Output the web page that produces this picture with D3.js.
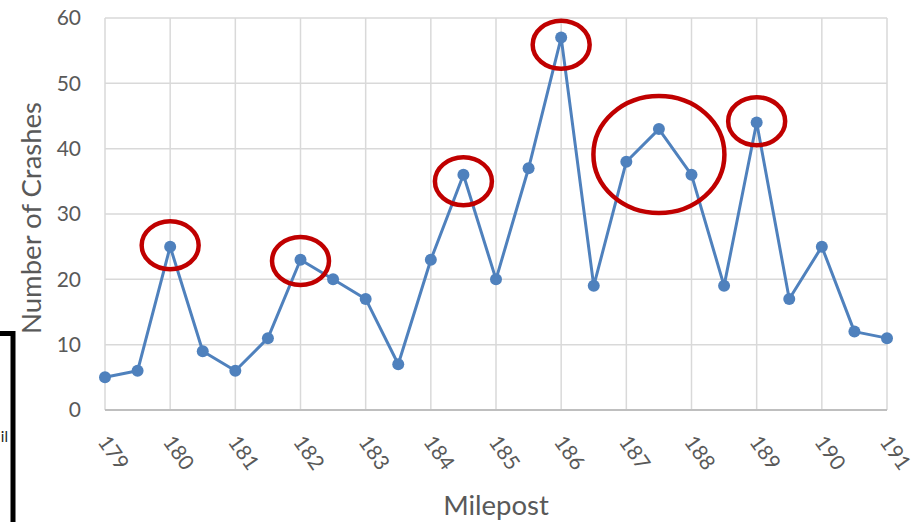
<!DOCTYPE html>
<html>
<head>
<meta charset="utf-8">
<script src="https://cdn.jsdelivr.net/npm/d3@7"></script>
<style>
html,body{margin:0;padding:0;background:#fff;}
svg{display:block;font-family:Lato,"Open Sans",sans-serif;}
</style>
</head>
<body>
<svg id="chart" width="911" height="522"></svg>
<script>
// ---- data ----
const mileposts = [179,179.5,180,180.5,181,181.5,182,182.5,183,183.5,184,184.5,185,185.5,186,186.5,187,187.5,188,188.5,189,189.5,190,190.5,191];
const crashes   = [5,6,25,9,6,11,23,20,17,7,23,36,20,37,57,19,38,43,36,19,44,17,25,12,11];
const xTicks = [179,180,181,182,183,184,185,186,187,188,189,190,191];
const yTicks = [0,10,20,30,40,50,60];
// highlighted spots (milepost, crashes) circled in red
const circleX = [180,182,184.5,186,187.5,189];
const circleY = [25.2,22.8,35,55.9,39.1,44.2];
const circleSize = ["s","s","s","s","l","s"];
const xTitle = "Milepost";
const yTitle = "Number of Crashes";

const svg = d3.select("#chart");
const x = d3.scaleLinear().domain([179,191]).range([105,887]);
const y = d3.scaleLinear().domain([0,60]).range([410,18]);

const grid = "#d9d9d9", txt = "#595959", blue = "#4f81bd", red = "#c00000";

// gridlines
svg.append("g").selectAll("line").data(yTicks.filter(d=>d>0)).join("line")
  .attr("x1",x(179)).attr("x2",x(191)).attr("y1",d=>y(d)).attr("y2",d=>y(d))
  .attr("stroke",grid).attr("stroke-width",1.5);
svg.append("g").selectAll("line").data(xTicks).join("line")
  .attr("x1",d=>x(d)).attr("x2",d=>x(d)).attr("y1",y(0)).attr("y2",y(60))
  .attr("stroke",grid).attr("stroke-width",1.5);
// bottom axis line
svg.append("line").attr("x1",x(179)).attr("x2",x(191)).attr("y1",y(0)).attr("y2",y(0))
  .attr("stroke","#bfbfbf").attr("stroke-width",2);

// y tick labels
svg.append("g").selectAll("text").data(yTicks).join("text")
  .attr("x",81).attr("y",d=>y(d)).attr("dy","0.35em").attr("text-anchor","end")
  .attr("fill",txt).attr("font-size",21).text(d=>d);

// x tick labels (rotated)
svg.append("g").selectAll("text").data(xTicks).join("text")
  .attr("transform",d=>`translate(${x(d)-1},437) rotate(55)`)
  .attr("dominant-baseline","central").attr("text-anchor","start")
  .attr("fill",txt).attr("font-size",21).text(d=>d);

// axis titles
svg.append("text").attr("x",496).attr("y",515).attr("text-anchor","middle")
  .attr("fill",txt).attr("font-size",27.5).text(xTitle);
svg.append("text").attr("transform","translate(41,218) rotate(-90)").attr("text-anchor","middle")
  .attr("fill",txt).attr("font-size",27.5).text(yTitle);

// line + markers
const pts = mileposts.map((m,i)=>[m,crashes[i]]);
svg.append("path").datum(pts)
  .attr("d",d3.line().x(d=>x(d[0])).y(d=>y(d[1])))
  .attr("fill","none").attr("stroke",blue).attr("stroke-width",3).attr("stroke-linejoin","round");
svg.append("g").selectAll("circle").data(pts).join("circle")
  .attr("cx",d=>x(d[0])).attr("cy",d=>y(d[1])).attr("r",6).attr("fill",blue);

// red ellipses
svg.append("g").selectAll("ellipse").data(circleX.map((c,i)=>({c, v:circleY[i], s:circleSize[i]}))).join("ellipse")
  .attr("cx",d=>x(d.c)).attr("cy",d=>y(d.v))
  .attr("rx",d=>d.s==="l"?65.5:28.5).attr("ry",d=>d.s==="l"?58.5:24)
  .attr("fill","none").attr("stroke",red).attr("stroke-width",4.5);

// partial black bracket at left edge
svg.append("path").attr("d","M0,333.5 H13 V522").attr("fill","none").attr("stroke","#000").attr("stroke-width",5);
svg.append("text").attr("x",8).attr("y",442).attr("text-anchor","end").attr("font-size",15).attr("fill","#222").text("il");
</script>
</body>
</html>
